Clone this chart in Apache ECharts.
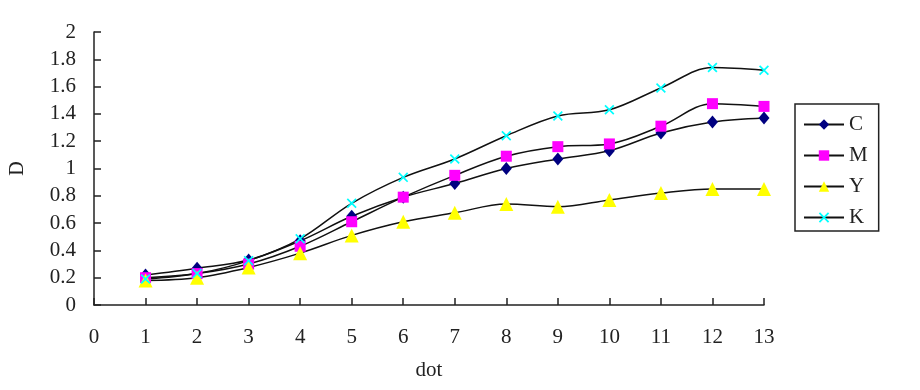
<!DOCTYPE html>
<html>
<head>
<meta charset="utf-8">
<script src="https://cdn.jsdelivr.net/npm/echarts@6/dist/echarts.min.js"></script>
<style>html,body{margin:0;padding:0;background:#fff;}#c{width:920px;height:390px;}</style>
</head>
<body>
<div id="c"></div>
<script>
const dots = [1,2,3,4,5,6,7,8,9,10,11,12,13];
const seriesNames = ['C','M','Y','K'];
const C = [0.22,0.27,0.33,0.47,0.65,0.79,0.89,1.00,1.07,1.13,1.26,1.34,1.37];
const M = [0.20,0.23,0.30,0.43,0.61,0.79,0.95,1.09,1.16,1.18,1.31,1.475,1.455];
const Y = [0.18,0.20,0.275,0.38,0.51,0.61,0.675,0.74,0.72,0.77,0.82,0.85,0.85];
const K = [0.19,0.23,0.325,0.485,0.745,0.935,1.07,1.24,1.385,1.43,1.59,1.74,1.72];
const xTicks = {min:0, max:13, interval:1};
const yTicks = {min:0, max:2, interval:0.2};

const FONT = 'Liberation Serif';
const xPath = 'path://M0,1.2L1.2,0L5,3.8L8.8,0L10,1.2L6.2,5L10,8.8L8.8,10L5,6.2L1.2,10L0,8.8L3.8,5Z';
const styles = {
  C: {symbol:'diamond', size:[11,13], color:'#000080'},
  M: {symbol:'rect', size:11, color:'#FF00FF'},
  Y: {symbol:'triangle', size:14, color:'#FFFF00'},
  K: {symbol:xPath, size:10, color:'#00FFFF'}
};
const values = {C, M, Y, K};

const chart = echarts.init(document.getElementById('c'), null, {renderer:'canvas'});
chart.setOption({
  animation:false,
  backgroundColor:'#fff',
  textStyle:{fontFamily:FONT},
  grid:{left:92, top:32, right:156, bottom:85, containLabel:false},
  xAxis:{
    type:'value', min:xTicks.min, max:xTicks.max, interval:xTicks.interval,
    name:'dot', nameLocation:'middle', nameGap:55,
    nameTextStyle:{fontFamily:FONT, fontSize:21, color:'#222'},
    axisLine:{lineStyle:{color:'#222', width:1.5}},
    axisTick:{inside:true, length:7, lineStyle:{color:'#222', width:1.5}},
    axisLabel:{margin:22, fontFamily:FONT, fontSize:21, color:'#222'},
    splitLine:{show:false}
  },
  yAxis:{
    type:'value', min:yTicks.min, max:yTicks.max, interval:yTicks.interval,
    name:'D', nameLocation:'middle', nameGap:66, nameRotate:90,
    nameTextStyle:{fontFamily:FONT, fontSize:20, color:'#222'},
    axisLine:{show:true, lineStyle:{color:'#222', width:1.5}},
    axisTick:{show:true, inside:true, length:7, lineStyle:{color:'#222', width:1.5}},
    axisLabel:{margin:18, fontFamily:FONT, fontSize:21, color:'#222'},
    splitLine:{show:false}
  },
  legend:{
    orient:'vertical', left:795, top:104, width:83,
    padding:[10,11,3,8], itemGap:10, itemWidth:40, itemHeight:13,
    borderColor:'#222', borderWidth:1.5,
    textStyle:{fontFamily:FONT, fontSize:21, color:'#222', lineHeight:21},
    data:seriesNames
  },
  series:seriesNames.map(n => ({
    name:n, type:'line', smooth:0.35,
    data:dots.map((d,i) => [d, values[n][i]]),
    symbol:styles[n].symbol, symbolSize:styles[n].size,
    itemStyle:{color:styles[n].color, borderWidth:0},
    lineStyle:{color:'#111', width:1.5},
    z: 2
  }))
});
</script>
</body>
</html>
